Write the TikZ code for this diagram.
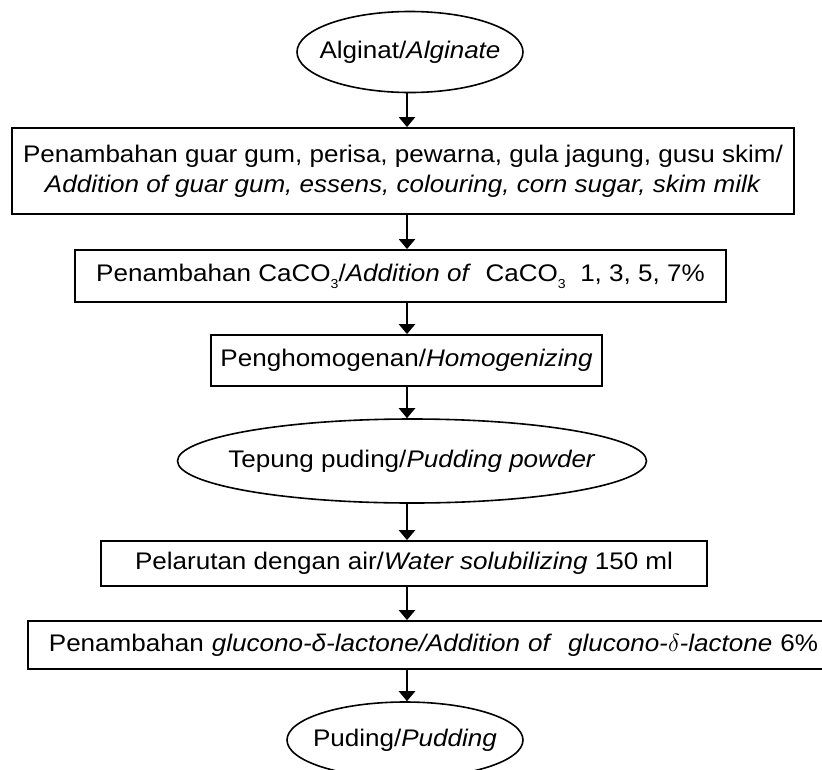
\documentclass[tikz,border=0pt]{standalone}
\usepackage{fontspec}
\setmainfont{Liberation Sans}[FakeStretch=1.085]
\usetikzlibrary{shapes.geometric,arrows.meta}
\tikzset{
  txt/.style={font=\fontsize{24}{30}\selectfont, text=black},
  boxn/.style={txt, draw, line width=1.8pt, rectangle, inner sep=0pt, align=center},
  elln/.style={txt, draw, line width=1.6pt, ellipse, inner sep=0pt},
  arr/.style={line width=2.6pt, -{Triangle[length=10pt,width=16pt]}},
}
\newcommand{\cacoo}{CaCO\raisebox{-7pt}{\fontsize{13}{13}\selectfont 3}}
\newcommand{\fixw}[1]{\makebox[0pt]{#1}}
\begin{document}
\begin{tikzpicture}[x=1pt,y=-1pt]
\clip (0,0) rectangle (822,769);
\fill[white] (0,0) rectangle (822,769);
\node[elln, minimum width=226pt, minimum height=81pt] (e1) at (410,52) {\fixw{Alginat/\textit{Alginate}}};
\node[boxn, minimum width=782pt, minimum height=86pt] (b2) at (403,171)
  {Penambahan guar gum, perisa, pewarna, gula jagung, gusu skim/\\\textit{Addition of guar gum, essens, colouring, corn sugar, skim milk}};
\node[boxn, minimum width=651pt, minimum height=52pt] (b3) at (400.5,276)
  {Penambahan \cacoo/\textit{Addition of}\ \ \cacoo\ \ 1, 3, 5, 7\%};
\node[boxn, minimum width=391pt, minimum height=51pt] (b4) at (406.5,360.5)
  {Penghomogenan/\textit{Homogenizing}};
\node[elln, minimum width=469pt, minimum height=84pt] (e2) at (412,461)
  {\fixw{Tepung puding/\textit{Pudding powder}}};
\node[boxn, minimum width=606pt, minimum height=45pt] (b5) at (404,563.5)
  {Pelarutan dengan air/\textit{Water solubilizing} 150 ml};
\node[boxn, anchor=west, minimum width=823pt, minimum height=48pt, text width=781pt, align=left, inner xsep=21pt] (b6) at (27,645)
  {Penambahan \textit{glucono-δ-lactone/Addition of}\ \ \textit{glucono-$\delta$-lactone} 6\%};
\node[elln, minimum width=236pt, minimum height=76pt] (e3) at (405,740) {\fixw{Puding/\textit{Pudding}}};
\coordinate (cx) at (407,0);
\draw[arr] (e1.south -| cx) -- (b2.north -| cx);
\draw[arr] (b2.south -| cx) -- (b3.north -| cx);
\draw[arr] (b3.south -| cx) -- (b4.north -| cx);
\draw[arr] (b4.south -| cx) -- (e2.north -| cx);
\draw[arr] (e2.south -| cx) -- (b5.north -| cx);
\draw[arr] (b5.south -| cx) -- (b6.north -| cx);
\draw[arr] (b6.south -| cx) -- (e3.north -| cx);
\end{tikzpicture}
\end{document}
